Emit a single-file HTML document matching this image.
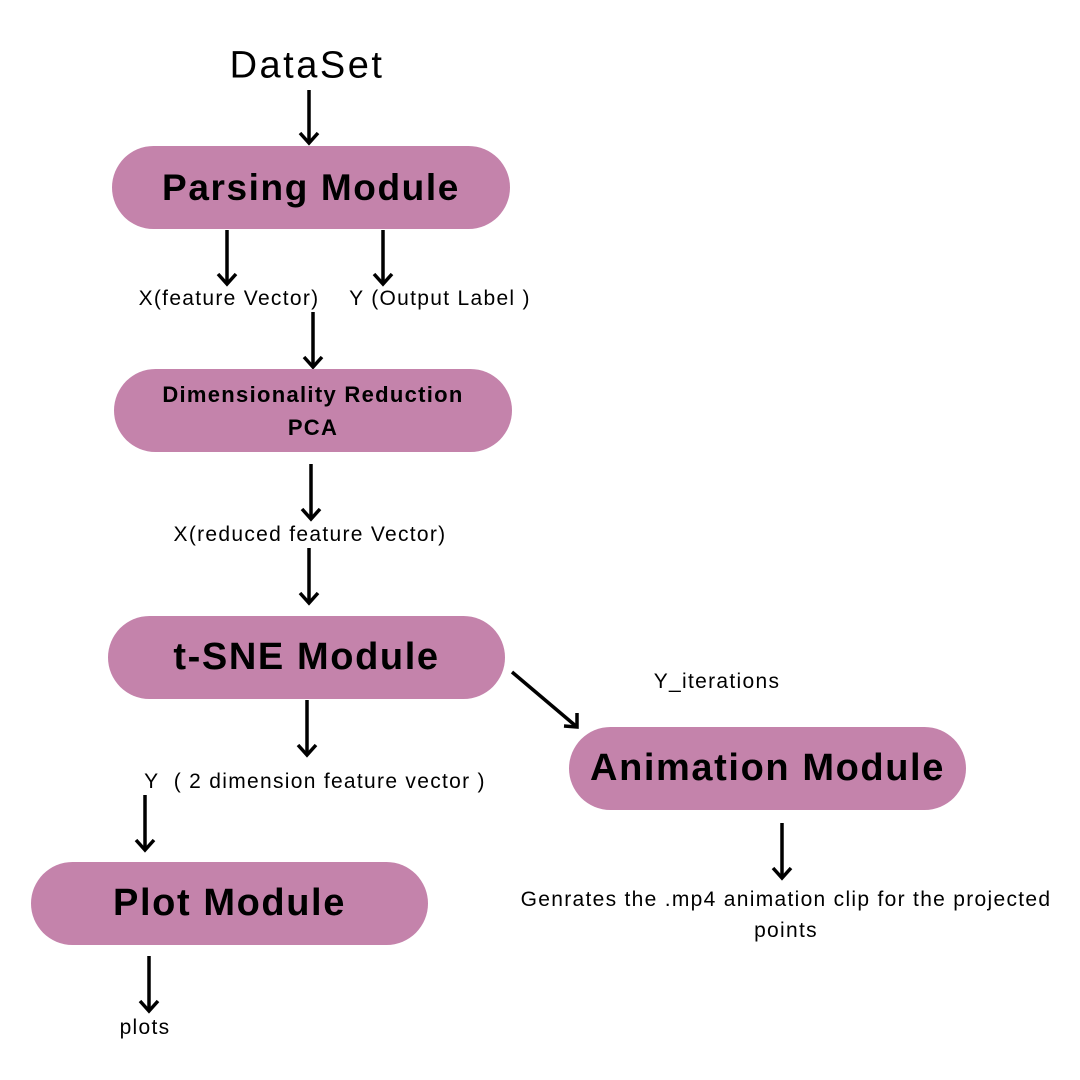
<!DOCTYPE html>
<html><head><style>
body{margin:0;width:1080px;height:1080px;background:#fff;position:relative;font-family:"Liberation Sans",sans-serif;overflow:hidden}
.p{position:absolute;background:#C483AB;border-radius:42px;display:flex;align-items:center;justify-content:center;text-align:center;font-weight:bold;color:#000;letter-spacing:1.6px}
.t{position:absolute;white-space:nowrap;transform:translate(-50%,-50%);color:#000;font-size:21px;letter-spacing:1.3px}
svg{position:absolute;left:0;top:0}
</style></head><body>
<svg width="1080" height="1080" stroke="#000" stroke-width="3.5" fill="none">
<g>
<line x1="309" y1="90" x2="309" y2="143"/><path d="M300,133 L309,143 L318,133"/>
<line x1="227" y1="230" x2="227" y2="284"/><path d="M218,274 L227,284 L236,274"/>
<line x1="383" y1="230" x2="383" y2="284"/><path d="M374,274 L383,284 L392,274"/>
<line x1="313" y1="312" x2="313" y2="367"/><path d="M304,357 L313,367 L322,357"/>
<line x1="311" y1="464" x2="311" y2="519"/><path d="M302,509 L311,519 L320,509"/>
<line x1="309" y1="548" x2="309" y2="603"/><path d="M300,593 L309,603 L318,593"/>
<line x1="307" y1="700" x2="307" y2="755"/><path d="M298,745 L307,755 L316,745"/>
<line x1="145" y1="795" x2="145" y2="850"/><path d="M136,840 L145,850 L154,840"/>
<line x1="149" y1="956" x2="149" y2="1011"/><path d="M140,1001 L149,1011 L158,1001"/>
<line x1="782" y1="823" x2="782" y2="878"/><path d="M773,868 L782,878 L791,868"/>
<line x1="512" y1="672" x2="577" y2="727"/><path d="M564,726 L577,727 L577,713"/>
</g></svg>
<div class="t" style="left:307px;top:66px;font-size:38px;letter-spacing:2.5px">DataSet</div>
<div class="p" style="left:112px;top:146px;width:398px;height:83px;font-size:37px">Parsing Module</div>
<div class="t" style="left:229px;top:299px">X(feature Vector)</div>
<div class="t" style="left:440px;top:299px">Y (Output Label )</div>
<div class="p" style="left:114px;top:369px;width:398px;height:83px;font-size:22px;line-height:33px;letter-spacing:1.3px">Dimensionality Reduction<br>PCA</div>
<div class="t" style="left:310px;top:535px">X(reduced feature Vector)</div>
<div class="p" style="left:108px;top:616px;width:397px;height:83px;font-size:38px">t-SNE Module</div>
<div class="t" style="left:717px;top:682px">Y_iterations</div>
<div class="p" style="left:569px;top:727px;width:397px;height:83px;font-size:38px">Animation Module</div>
<div class="t" style="left:315px;top:782px">Y&nbsp; ( 2 dimension feature vector )</div>
<div class="p" style="left:31px;top:862px;width:397px;height:83px;font-size:38px">Plot Module</div>
<div class="t" style="left:145px;top:1028px">plots</div>
<div class="t" style="left:786px;top:900px">Genrates the .mp4 animation clip for the projected</div>
<div class="t" style="left:786px;top:931px">points</div>
</body></html>
